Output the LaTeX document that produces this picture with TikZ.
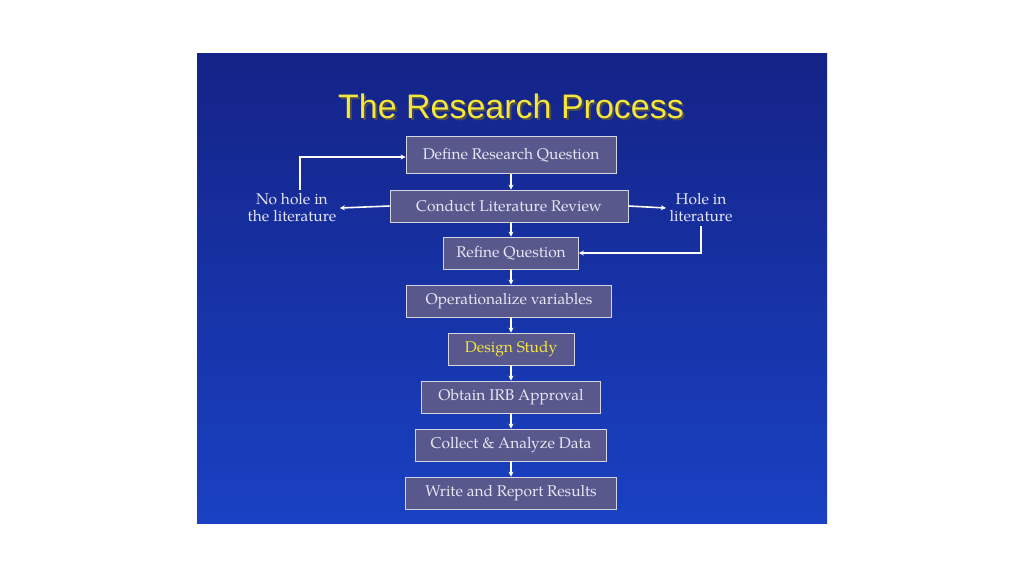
\documentclass[tikz,border=0pt]{standalone}
\usepackage{fontspec}
\setmainfont{TeX Gyre Pagella}[Scale=1]
\newfontfamily\titlefont{Liberation Sans}
\usetikzlibrary{arrows.meta}
\definecolor{bgtop}{RGB}{20,35,135}
\definecolor{bgbot}{RGB}{25,65,195}
\definecolor{boxfill}{RGB}{88,88,140}
\definecolor{boxtext}{RGB}{230,230,245}
\definecolor{ttl}{RGB}{245,230,60}
\begin{document}
\begin{tikzpicture}[x=1pt,y=-1pt,
  stepbox/.style={draw=white!75!boxfill,line width=0.8pt,fill=boxfill,text=boxtext,font=\fontsize{15.5}{17}\selectfont,minimum height=32pt,inner sep=0pt},
  lbl/.style={text=boxtext,font=\fontsize{15.5}{17}\selectfont,align=center},
  arr/.style={draw=white,line width=1.6pt,-{Stealth[length=5pt,width=5pt]}}]
\useasboundingbox (0,0) rectangle (1024,576);
\fill[white] (0,0) rectangle (1024,576);
\shade[top color=bgtop,bottom color=bgbot] (197,53) rectangle (827,523);
\node[text=black!70,font=\titlefont\fontsize{34}{36}\selectfont] at (513,108) {The Research Process};
\node (title) [text=ttl,font=\titlefont\fontsize{34}{36}\selectfont] at (511,106) {The Research Process};
\node (define) [stepbox,minimum width=210pt,minimum height=37pt] at (511,155) {Define Research Question};
\node (conduct) [stepbox,minimum width=238pt] at (509,206) {Conduct Literature Review};
\node (refine) [stepbox,minimum width=135pt] at (511,253) {Refine Question};
\node (oper) [stepbox,minimum width=205pt] at (509,301) {Operationalize variables};
\node (design) [stepbox,minimum width=126pt,text=ttl] at (511,349) {Design Study};
\node (obtain) [stepbox,minimum width=179pt] at (511,397) {Obtain IRB Approval};
\node (collect) [stepbox,minimum width=191pt] at (511,445) {Collect \& Analyze Data};
\node (write) [stepbox,minimum width=211pt] at (511,493) {Write and Report Results};
\node (nohole) [lbl] at (292,208) {No hole in\\the literature};
\node (hole) [lbl] at (701,208) {Hole in\\literature};
\draw[arr] (define.south -| refine) -- (conduct.north -| refine);
\draw[arr] (conduct.south -| refine) -- (refine.north);
\draw[arr] (refine.south) -- (refine.south |- oper.north);
\draw[arr] (oper.south -| design) -- (design.north);
\draw[arr] (design.south) -- (obtain.north);
\draw[arr] (obtain.south) -- (collect.north);
\draw[arr] (collect.south) -- (write.north);
\draw[arr] (conduct.west) -- (nohole.east);
\draw[arr] (conduct.east) -- (hole.west);
\draw[arr] (nohole.north -| 300,0) -- (300,157) -- (define.west |- 0,157);
\draw[arr] (hole.south) -- (701,253) -- (refine.east);
\end{tikzpicture}
\end{document}
